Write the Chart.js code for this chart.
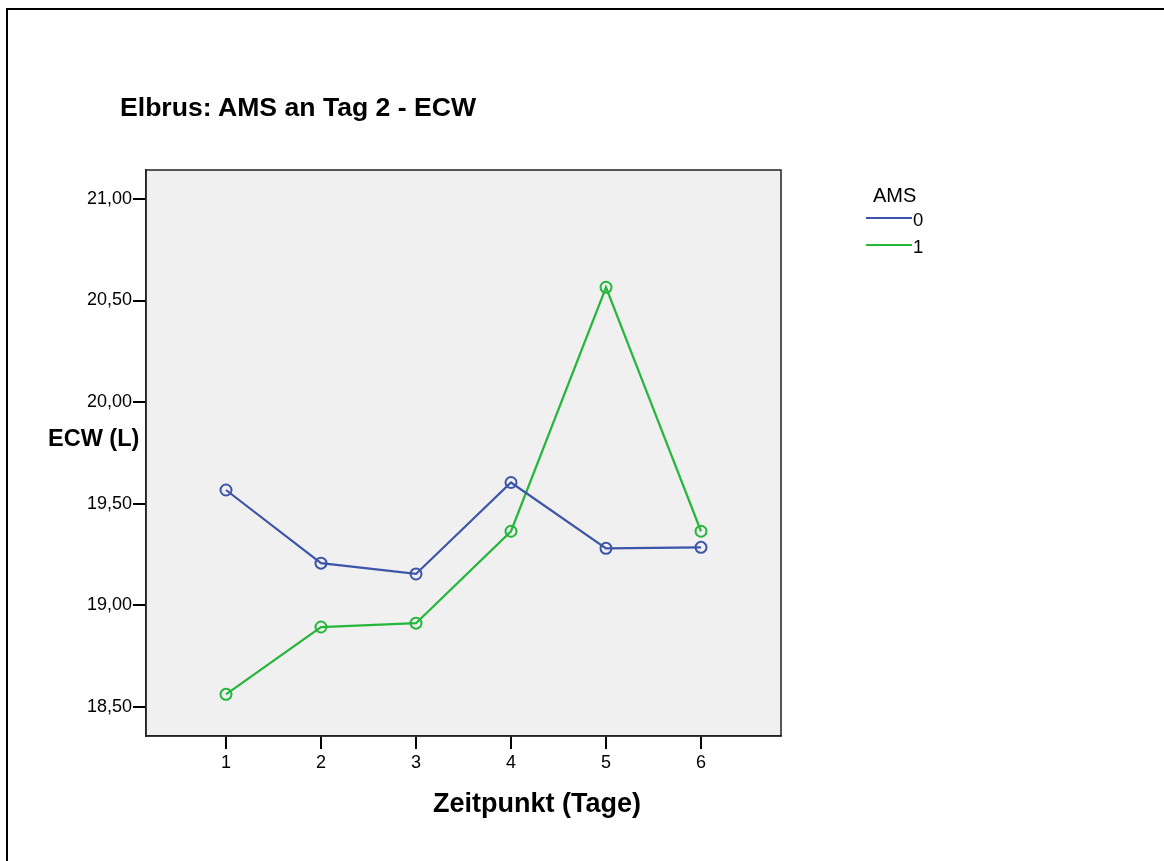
<!DOCTYPE html>
<html>
<head>
<meta charset="utf-8">
<script src="https://cdn.jsdelivr.net/npm/chart.js@4"></script>
<style>
  html, body { margin:0; padding:0; background:#fff; }
  body { width:1164px; height:861px; position:relative; overflow:hidden; font-family:"Liberation Sans", Arial, sans-serif; }
  #frame { position:absolute; left:6px; top:8px; width:1170px; height:900px; border-top:2px solid #000; border-left:2px solid #000; }
  canvas { position:absolute; left:0; top:0; }
  .t { position:absolute; white-space:nowrap; color:#000; }
  .ln { position:absolute; height:2px; }
</style>
</head>
<body>
<div id="frame"></div>
<canvas id="c" width="1164" height="861"></canvas>
<div class="t" id="title" style="left:120px; top:94px; font-size:26.6px; line-height:26.6px; font-weight:bold;">Elbrus: AMS an Tag 2 - ECW</div>
<div class="t" id="ytitle" style="left:48px; top:427px; font-size:23.5px; line-height:23.5px; font-weight:bold;">ECW (L)</div>
<div class="t" id="xtitle" style="left:433px; top:790px; font-size:27px; line-height:27px; font-weight:bold;">Zeitpunkt (Tage)</div>
<div id="legend"></div>
<script>
// ---- data ----
const days = [1, 2, 3, 4, 5, 6];
const groupLabels = ["0", "1"];
const ams0 = [19.568, 19.208, 19.155, 19.605, 19.281, 19.286];
const ams1 = [18.563, 18.894, 18.913, 19.365, 20.565, 19.365];
const yTicks = [18.5, 19.0, 19.5, 20.0, 20.5, 21.0];
const legendTitle = "AMS";
const colors = ["#3d55a8", "#25b63c"];

// ---- legend (HTML) ----
const lg = document.getElementById("legend");
const lt = document.createElement("div");
lt.className = "t"; lt.textContent = legendTitle;
lt.style.cssText = "left:873px; top:185px; font-size:20px; line-height:20px;";
lg.appendChild(lt);
groupLabels.forEach((g, i) => {
  const line = document.createElement("div");
  line.className = "ln";
  line.style.cssText = `left:866px; top:${217 + i*27}px; width:46px; background:${colors[i]};`;
  lg.appendChild(line);
  const lab = document.createElement("div");
  lab.className = "t"; lab.textContent = g;
  lab.style.cssText = `left:913px; top:${211 + i*27}px; font-size:18.5px; line-height:18.5px;`;
  lg.appendChild(lab);
});

// ---- chart ----
const series = [ams0, ams1];
const datasets = series.map((vals, i) => ({
  label: groupLabels[i],
  data: days.map((d, j) => ({ x: d, y: vals[j] })),
  borderColor: colors[i],
  backgroundColor: "rgba(0,0,0,0)",
  borderWidth: 2.2,
  pointRadius: 5.5,
  pointBorderWidth: 2,
  pointBorderColor: colors[i],
  pointBackgroundColor: "rgba(0,0,0,0)",
  pointStyle: "circle",
  tension: 0
}));

const plotBg = {
  id: "plotBg",
  beforeDraw(chart) {
    const { ctx, chartArea: a } = chart;
    ctx.save();
    ctx.fillStyle = "#f0f0f0";
    ctx.fillRect(a.left, a.top, a.right - a.left, a.bottom - a.top);
    ctx.restore();
  },
  afterDraw(chart) {
    const { ctx, chartArea: a } = chart;
    ctx.save();
    ctx.strokeStyle = "#222";
    ctx.lineWidth = 1.5;
    ctx.strokeRect(a.left, a.top, a.right - a.left, a.bottom - a.top);
    ctx.restore();
  }
};

new Chart(document.getElementById("c"), {
  type: "line",
  data: { datasets },
  options: {
    responsive: false,
    devicePixelRatio: 1,
    animation: false,
    layout: { padding: { left: 0, top: 170, right: 383, bottom: 0 } },
    plugins: { legend: { display: false }, tooltip: { enabled: false }, title: { display: false } },
    scales: {
      x: {
        type: "linear",
        min: 0.158, max: 6.842,
        afterFit(s) { s.height = 125; },
        afterBuildTicks(s) { s.ticks = days.map(v => ({ value: v })); },
        grid: { drawOnChartArea: false, drawTicks: true, tickLength: 13, color: "#000", lineWidth: 2 },
        border: { display: true, color: "#222", width: 1.5 },
        ticks: { color: "#000", padding: 3, font: { family: "Liberation Sans", size: 18 }, maxRotation: 0, callback: v => String(v) }
      },
      y: {
        type: "linear",
        min: 18.358, max: 21.142,
        afterFit(s) { s.width = 146; },
        afterBuildTicks(s) { s.ticks = yTicks.map(v => ({ value: v })); },
        grid: { drawOnChartArea: false, drawTicks: true, tickLength: 13, color: "#000", lineWidth: 2 },
        border: { display: true, color: "#222", width: 1.5 },
        ticks: { color: "#000", padding: 1, font: { family: "Liberation Sans", size: 18 },
          callback: v => Number(v).toFixed(2).replace(".", ",") }
      }
    }
  },
  plugins: [plotBg]
});
</script>
</body>
</html>
